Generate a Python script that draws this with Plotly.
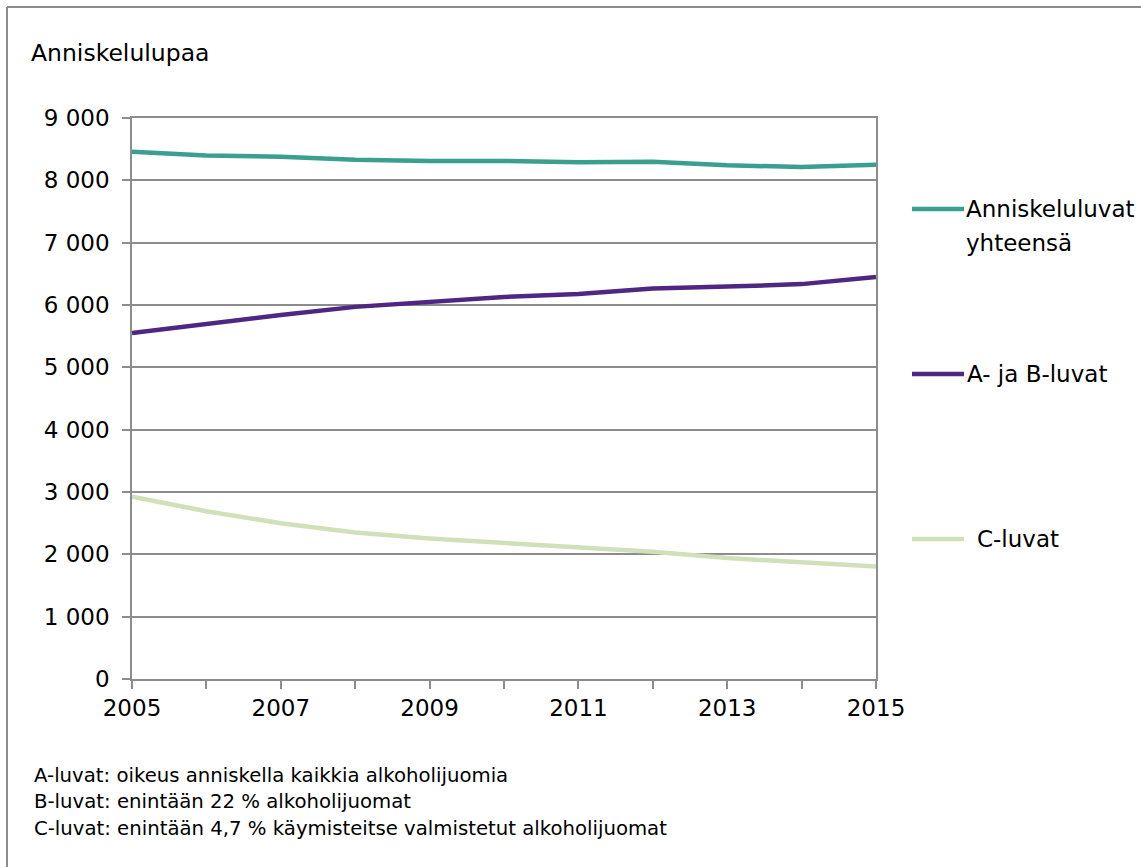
import plotly.graph_objects as go

years = list(range(2005, 2016))
total = [8460, 8400, 8380, 8330, 8310, 8310, 8290, 8300, 8240, 8215, 8250]
ab = [5550, 5700, 5840, 5970, 6050, 6130, 6175, 6265, 6295, 6335, 6450]
c = [2925, 2690, 2500, 2350, 2255, 2185, 2120, 2040, 1940, 1880, 1805]

names = ["Anniskeluluvat yhteensä", "A- ja B-luvat", "C-luvat"]
colors = ["#3A9F8E", "#4F2783", "#D0E0B8"]
series = [total, ab, c]

y_ticks = list(range(0, 9001, 1000))
y_ticktext = ["0" if v == 0 else f"{v // 1000} 000" for v in y_ticks]
x_ticktext = [str(y) if (y - 2005) % 2 == 0 else "" for y in years]

notes = [
    "A-luvat: oikeus anniskella kaikkia alkoholijuomia",
    "B-luvat: enintään 22 % alkoholijuomat",
    "C-luvat: enintään 4,7 % käymisteitse valmistetut alkoholijuomat",
]

W, H = 1141, 867
L, R, T, B = 132, 876, 118, 679
FONT = "DejaVu Sans, Liberation Sans, Arial, sans-serif"
FS = 23


def px(x):
    return (x - L) / (R - L)


def py(y):
    return (B - y) / (B - T)


fig = go.Figure()
for name, col, vals in zip(names, colors, series):
    fig.add_trace(go.Scatter(x=years, y=vals, mode="lines", name=name,
                             line=dict(color=col, width=4.5), showlegend=False,
                             hoverinfo="skip"))

shapes = []
annotations = []

# outer frame (left and top edges visible)
shapes.append(dict(type="line", xref="paper", yref="paper", x0=px(7), x1=px(7),
                   y0=py(7), y1=py(H + 5), line=dict(color="#8C8C8C", width=2)))
shapes.append(dict(type="line", xref="paper", yref="paper", x0=px(7), x1=px(W + 5),
                   y0=py(7), y1=py(7), line=dict(color="#8C8C8C", width=2)))

# legend samples
leg_y = [209, 374, 539]
leg_text_x = [966, 967, 977]
leg_labels = [["Anniskeluluvat", "yhteensä"], ["A- ja B-luvat"], ["C-luvat"]]
for ly, lx, col, labels in zip(leg_y, leg_text_x, colors, leg_labels):
    shapes.append(dict(type="line", xref="paper", yref="paper", x0=px(912), x1=px(964),
                       y0=py(ly), y1=py(ly), line=dict(color=col, width=4.5)))
    for i, lab in enumerate(labels):
        annotations.append(dict(xref="paper", yref="paper", x=px(lx), y=py(ly + i * 34),
                                text=lab, showarrow=False, xanchor="left", yanchor="middle",
                                xshift=-2, font=dict(size=FS, color="#000", family=FONT)))

# y axis title
annotations.append(dict(xref="paper", yref="paper", x=px(31), y=py(53), text="Anniskelulupaa",
                        showarrow=False, xanchor="left", yanchor="middle", xshift=-2,
                        font=dict(size=23.5, color="#000", family=FONT)))

# footnotes
for i, n in enumerate(notes):
    annotations.append(dict(xref="paper", yref="paper", x=px(34), y=py(775 + i * 26.5), text=n,
                            showarrow=False, xanchor="left", yanchor="middle", xshift=-2,
                            font=dict(size=19.7, color="#000", family=FONT)))

fig.update_layout(
    width=W, height=H,
    margin=dict(l=L, r=W - R, t=T, b=H - B),
    paper_bgcolor="white", plot_bgcolor="white",
    font=dict(family=FONT, color="#000", size=FS),
    shapes=shapes, annotations=annotations,
    hovermode=False,
    xaxis=dict(range=[2005, 2015], tickvals=years, ticktext=x_ticktext,
               ticks="outside", ticklen=8, tickcolor="#8C8C8C", tickwidth=1.5,
               showgrid=False, showline=True, linecolor="#8C8C8C", linewidth=1.5,
               mirror=True, zeroline=False, tickfont=dict(size=FS)),
    yaxis=dict(range=[0, 9000], tickvals=y_ticks, ticktext=y_ticktext,
               ticks="outside", ticklen=8, tickcolor="#8C8C8C", tickwidth=1.5,
               showgrid=True, gridcolor="#8C8C8C", gridwidth=1.5,
               showline=True, linecolor="#8C8C8C", linewidth=1.5, mirror=True,
               zeroline=False, tickfont=dict(size=FS), ticklabelstandoff=8),
)

fig.write_html("out.html", config={"displayModeBar": False},
               post_script="document.body.style.margin='0';document.body.style.overflow='hidden';")
